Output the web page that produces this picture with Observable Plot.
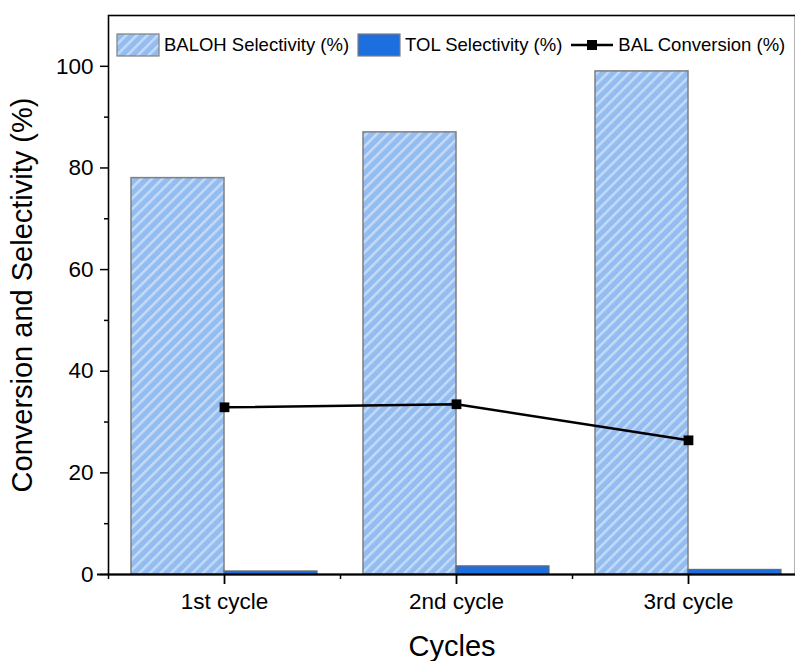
<!DOCTYPE html>
<html>
<head>
<meta charset="utf-8">
<script src="https://cdn.jsdelivr.net/npm/d3@7"></script>
<script src="https://cdn.jsdelivr.net/npm/@observablehq/plot@0.6"></script>
<style>
  html, body { margin: 0; padding: 0; background: white; overflow: hidden; }
  #wrap { position: relative; width: 795px; height: 661px; font-family: "Liberation Sans", Arial, sans-serif; }
  #legend { position: absolute; left: 116px; top: 33px; display: flex; align-items: center; font-size: 18.5px; color: #000; white-space: nowrap; }
  #legend .item { display: flex; align-items: center; margin-right: 8px; }
  #legend svg { display: block; margin-right: 4px; }
</style>
</head>
<body>
<div id="wrap"><div id="legend"></div></div>
<script>
const cycles = ["1st cycle", "2nd cycle", "3rd cycle"];
const balohSelectivity = [78, 87, 99];
const tolSelectivity = [0.6, 1.6, 0.9];
const balConversion = [32.9, 33.5, 26.4];
const yTicks = [0, 20, 40, 60, 80, 100];
const yMinorTicks = [10, 30, 50, 70, 90];
const seriesNames = ["BALOH Selectivity (%)", "TOL Selectivity (%)", "BAL Conversion (%)"];

const rows = cycles.map((c, i) => ({cycle: c, baloh: balohSelectivity[i], tol: tolSelectivity[i], conv: balConversion[i]}));

const balohFill = "#93bcf0";
const stripeFill = "#c4daf6";
const tolFill = "#1d6fdf";

const chart = Plot.plot({
  width: 795,
  height: 661,
  marginLeft: 108,
  marginTop: 15,
  marginBottom: 87,
  marginRight: 0,
  style: {fontFamily: "'Liberation Sans', Arial, sans-serif", overflow: "hidden"},
  x: {type: "band", domain: cycles, range: [108, 804], padding: 0},
  y: {domain: [0, 110], range: [574, 15]},
  marks: [
    Plot.barY(rows, {x: "cycle", y: "baloh", fill: "url(#hatchBaloh)", stroke: "#7f7f7f", strokeWidth: 1.5, insetLeft: 23, insetRight: 116}),
    Plot.barY(rows, {x: "cycle", y: "tol", fill: tolFill, stroke: "#6a6a6a", strokeWidth: 1.2, insetLeft: 116, insetRight: 23}),
    Plot.line(rows, {x: "cycle", y: "conv", stroke: "black", strokeWidth: 2.5}),
    Plot.dot(rows, {x: "cycle", y: "conv", symbol: "square", r: 5.5, fill: "black", stroke: "none"}),
    Plot.frame({stroke: "black", strokeWidth: 1.6}),
    Plot.ruleY([0], {stroke: "black", strokeWidth: 1.8, insetLeft: -11}),
    Plot.axisY(yTicks, {tickSize: 8, tickPadding: 7, fontSize: 22.5, tickFormat: d => String(d), label: null, strokeWidth: 1.5, color: "black"}),
    Plot.axisY(yMinorTicks, {tickSize: 4, tickFormat: () => "", label: null, strokeWidth: 1.5}),
    Plot.axisX(cycles, {tickSize: 10, tickPadding: 9, fontSize: 22.5, label: null, strokeWidth: 1.8}),
    Plot.axisX(cycles, {tickSize: 5, dx: -116, tickFormat: () => "", label: null, strokeWidth: 1.5}),
    Plot.text(["Conversion and Selectivity (%)"], {frameAnchor: "left", textAnchor: "middle", lineAnchor: "middle", rotate: -90, dx: -86, fontSize: 29, fill: "black"}),
    Plot.text(["Cycles"], {frameAnchor: "bottom", textAnchor: "middle", lineAnchor: "middle", dy: 72, fontSize: 29, fill: "black"})
  ]
});

const ns = "http://www.w3.org/2000/svg";
function addPattern(svg, id) {
  let defs = svg.querySelector("defs");
  if (!defs) { defs = document.createElementNS(ns, "defs"); svg.insertBefore(defs, svg.firstChild); }
  const p = document.createElementNS(ns, "pattern");
  p.setAttribute("id", id);
  p.setAttribute("patternUnits", "userSpaceOnUse");
  p.setAttribute("width", "7.5");
  p.setAttribute("height", "7.5");
  p.setAttribute("patternTransform", "rotate(45)");
  const bg = document.createElementNS(ns, "rect");
  bg.setAttribute("width", "7.5"); bg.setAttribute("height", "7.5"); bg.setAttribute("fill", balohFill);
  const st = document.createElementNS(ns, "rect");
  st.setAttribute("width", "2.5"); st.setAttribute("height", "7.5"); st.setAttribute("fill", stripeFill);
  p.appendChild(bg); p.appendChild(st);
  defs.appendChild(p);
}
addPattern(chart, "hatchBaloh");
document.getElementById("wrap").insertBefore(chart, document.getElementById("legend"));
chart.style.position = "absolute";
chart.style.left = "0";
chart.style.top = "0";

const legend = document.getElementById("legend");
function swatch(kind) {
  const s = document.createElementNS(ns, "svg");
  s.setAttribute("width", 44);
  s.setAttribute("height", 24);
  if (kind === "line") {
    const l = document.createElementNS(ns, "line");
    l.setAttribute("x1", 1); l.setAttribute("x2", 43); l.setAttribute("y1", 12); l.setAttribute("y2", 12);
    l.setAttribute("stroke", "black"); l.setAttribute("stroke-width", 2.5);
    const r = document.createElementNS(ns, "rect");
    r.setAttribute("x", 17); r.setAttribute("y", 7); r.setAttribute("width", 10); r.setAttribute("height", 10);
    r.setAttribute("fill", "black");
    s.appendChild(l); s.appendChild(r);
  } else {
    if (kind === "hatch") addPattern(s, "hatchLegend");
    const r = document.createElementNS(ns, "rect");
    r.setAttribute("x", 1); r.setAttribute("y", 1); r.setAttribute("width", 42); r.setAttribute("height", 22);
    r.setAttribute("fill", kind === "hatch" ? "url(#hatchLegend)" : tolFill);
    r.setAttribute("stroke", "#7f7f7f"); r.setAttribute("stroke-width", 1.2);
    s.appendChild(r);
  }
  return s;
}
["hatch", "solid", "line"].forEach((k, i) => {
  const it = document.createElement("div");
  it.className = "item";
  it.appendChild(swatch(k));
  const t = document.createElement("span");
  t.textContent = seriesNames[i];
  it.appendChild(t);
  legend.appendChild(it);
});
</script>
</body>
</html>
